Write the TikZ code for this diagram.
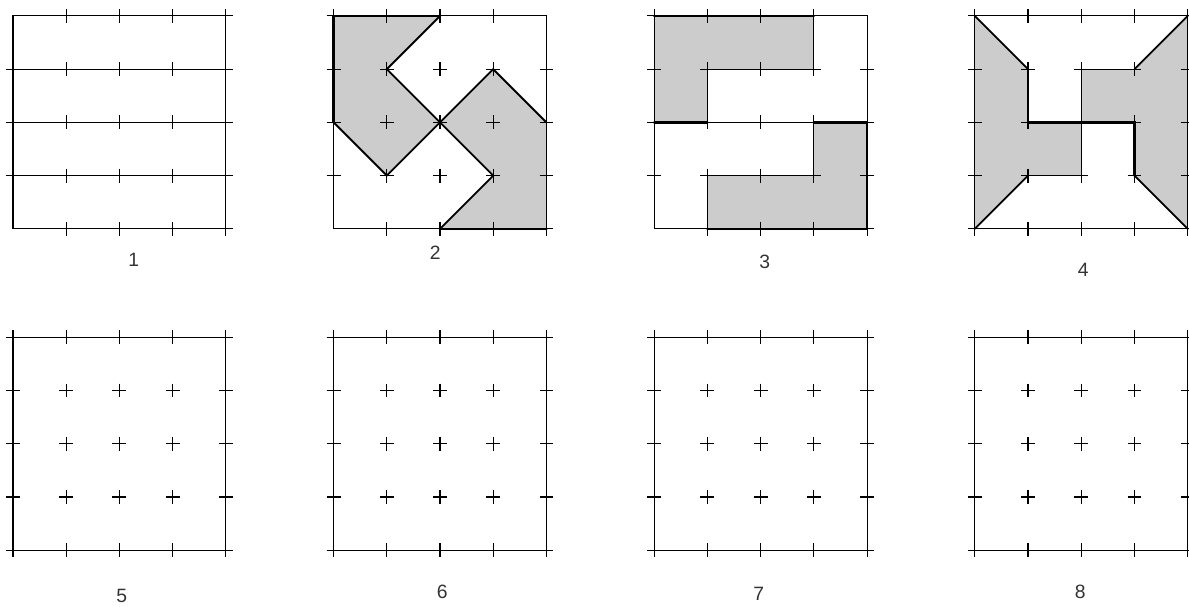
\documentclass[tikz,border=0pt]{standalone}
\usepackage{fontspec}
\setmainfont{Liberation Sans}
\definecolor{cellgray}{RGB}{204,204,204}
\tikzset{
  frame/.style={line width=0.8pt},
  thickedge/.style={line width=1.9pt, line cap=round},
  diag/.style={line width=1.4pt, line cap=round},
  inner/.style={line width=0.95pt},
  crossmark/.style={line width=0.8pt},
  lbl/.style={font=\fontsize{14.5}{17}\selectfont, text=black!80, inner sep=0pt},
  plus/.pic={\draw[crossmark] (-0.13,0)--(0.13,0) (0,-0.13)--(0,0.13);}
}
\newcommand{\edgecrosses}{%
  \foreach \c in {0,...,4}{\foreach \r in {1,2,3}{\pic at (\c,\r) {plus};}}
  \foreach \c in {1,2,3}{\foreach \r in {0,4}{\pic at (\c,\r) {plus};}}}
\begin{document}
\begin{tikzpicture}[x=39.975pt,y=-39.975pt]
\useasboundingbox (0,0) rectangle (22.345,11.407);
% ---------- square 1 ----------
\begin{scope}[shift={(0.244,0.3)}]
  \draw[frame] (0,0) rectangle (4,4);
  \draw[frame] (0,1)--(4,1) (0,2)--(4,2) (0,3)--(4,3);
  \edgecrosses
  \foreach \p in {(4,0),(4,4)} \pic at \p {plus};
\end{scope}
% ---------- square 2 ----------
\begin{scope}[shift={(6.269,0.3)}]
  \fill[cellgray] (0,0)--(2,0)--(1,1)--(2,2)--(1,3)--(0,2)--cycle;
  \fill[cellgray] (4,4)--(2,4)--(3,3)--(2,2)--(3,1)--(4,2)--cycle;
  \draw[frame] (0,0) rectangle (4,4);
  \edgecrosses
  \foreach \p in {(0,0),(4,4)} \pic at \p {plus};
  \draw[diag] (2,0)--(1,1)--(2,2)--(1,3)--(0,2);
  \draw[diag] (2,4)--(3,3)--(2,2)--(3,1)--(4,2);
  \draw[thickedge] (0,2)--(0,0)--(2,0);
  \draw[thickedge] (2,4)--(4,4);
\end{scope}
% ---------- square 3 ----------
\begin{scope}[shift={(12.294,0.3)}]
  \fill[cellgray] (0,0)--(3,0)--(3,1)--(1,1)--(1,2)--(0,2)--cycle;
  \fill[cellgray] (4,2)--(4,4)--(1,4)--(1,3)--(3,3)--(3,2)--cycle;
  \draw[frame] (0,0) rectangle (4,4);
  \edgecrosses
  \foreach \p in {(0,0),(4,4)} \pic at \p {plus};
  \draw[inner] (3,0)--(3,1)--(1,1)--(1,2);
  \draw[inner] (1,2)--(3,2);
  \draw[inner] (1,4)--(1,3)--(3,3)--(3,2);
  \draw[thickedge] (0,0)--(3,0);
  \draw[thickedge] (0,2)--(1,2);
  \draw[thickedge] (3,2)--(4,2)--(4,4)--(1,4);
\end{scope}
% ---------- square 4 ----------
\begin{scope}[shift={(18.319,0.3)}]
  \fill[cellgray] (0,0)--(1,1)--(1,2)--(2,2)--(2,3)--(1,3)--(0,4)--cycle;
  \fill[cellgray] (4,0)--(3,1)--(2,1)--(2,2)--(3,2)--(3,3)--(4,4)--cycle;
  \draw[frame] (0,0) rectangle (4,4);
  \edgecrosses
  \foreach \p in {(0,0),(4,0),(0,4),(4,4)} \pic at \p {plus};
  \draw[diag] (0,0)--(1,1) (1,3)--(0,4) (4,0)--(3,1) (3,3)--(4,4);
  \draw[inner] (2,2)--(2,3)--(1,3);
  \draw[inner] (3,1)--(2,1)--(2,2);
  \draw[thickedge] (1,1)--(1,2)--(3,2)--(3,3);
\end{scope}
% ---------- squares 5-8 ----------
\foreach \sx in {0.244,6.269,12.294,18.319}{
  \begin{scope}[shift={(\sx,6.34)}]
    \draw[frame] (0,0) rectangle (4,4);
    \foreach \c in {0,...,4}{\foreach \r in {0,...,4}{\pic at (\c,\r) {plus};}}
  \end{scope}
}
% ---------- labels ----------
\begin{scope}[x=0.75pt,y=-0.75pt]
  \node[lbl] (l1) at (134,260) {1};
  \node[lbl] (l2) at (436,253) {2};
  \node[lbl] (l3) at (766,262) {3};
  \node[lbl] (l4) at (1085,270) {4};
  \node[lbl] (l5) at (122,597) {5};
  \node[lbl] (l6) at (443,593) {6};
  \node[lbl] (l7) at (760,595) {7};
  \node[lbl] (l8) at (1082,593) {8};
\end{scope}
\end{tikzpicture}
\end{document}
